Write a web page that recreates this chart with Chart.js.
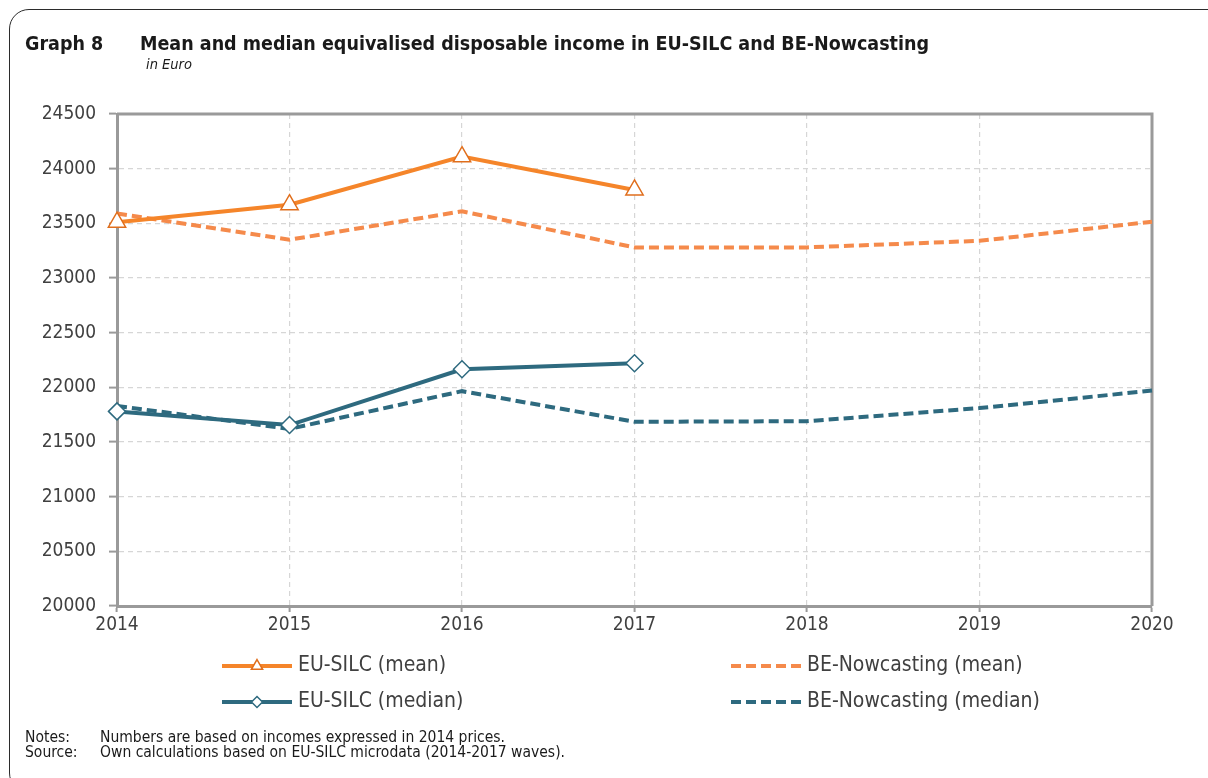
<!DOCTYPE html>
<html>
<head>
<meta charset="utf-8">
<title>Graph 8</title>
<script src="https://cdn.jsdelivr.net/npm/chart.js@4.4.1/dist/chart.umd.min.js"></script>
<style>
  html, body { margin: 0; padding: 0; }
  body {
    width: 1208px;
    height: 778px;
    overflow: hidden;
    background: #fff;
    position: relative;
    font-family: "DejaVu Sans Condensed", "DejaVu Sans", sans-serif;
    color: #1a1a1a;
  }
  #chart { position: absolute; left: 0; top: 0; }
  .clip {
    position: absolute;
    left: 0;
    top: 0;
    width: 1208px;
    height: 778px;
    overflow: hidden;
  }
  .frame {
    position: absolute;
    left: 9px;
    top: 9px;
    width: 1230px;
    height: 784px;
    border: 1.5px solid #2b2b2b;
    border-radius: 20px;
    box-sizing: border-box;
  }
  .txt { position: absolute; white-space: nowrap; }
  .graph-no { left: 25px; top: 34px; font-size: 19.5px; line-height: 19px; font-weight: bold; }
  .graph-title { left: 140px; top: 34px; font-size: 19.5px; line-height: 19px; font-weight: bold; }
  .graph-unit { left: 146px; top: 57px; font-size: 14.5px; line-height: 14px; font-style: italic; }
  .note { font-size: 15.5px; line-height: 15px; color: #1a1a1a; }
</style>
</head>
<body>
<canvas id="chart" width="1208" height="778"></canvas>
<div class="clip"><div class="frame"></div></div>
<div class="txt graph-no">Graph 8</div>
<div class="txt graph-title">Mean and median equivalised disposable income in EU-SILC and BE-Nowcasting</div>
<div class="txt graph-unit">in Euro</div>
<div class="txt note" style="left:25px;top:730px">Notes:</div>
<div class="txt note" style="left:100px;top:730px">Numbers are based on incomes expressed in 2014 prices.</div>
<div class="txt note" style="left:25px;top:745px">Source:</div>
<div class="txt note" style="left:100px;top:745px">Own calculations based on EU-SILC microdata (2014-2017 waves).</div>
<script>
// years on the x axis
const years = ["2014", "2015", "2016", "2017", "2018", "2019", "2020"];

// EU-SILC waves only go to 2017
const silcMean = [23510, 23670, 24110, 23805];
const silcMedian = [21780, 21655, 22165, 22220];

// BE-Nowcasting runs through 2020
const nowcastMean = [23590, 23350, 23610, 23280, 23280, 23340, 23515];
const nowcastMedian = [21830, 21620, 21965, 21685, 21690, 21810, 21970];

const seriesNames = [
  "EU-SILC (mean)",
  "BE-Nowcasting (mean)",
  "EU-SILC (median)",
  "BE-Nowcasting (median)",
];

const ORANGE = "#F5852A";
const ORANGE_LIGHT = "#F58A4B";
const TEAL = "#2E6A7F";
const AXIS = "#9a9a9a";
const FONT = '"DejaVu Sans Condensed", "DejaVu Sans", sans-serif';

// legend is laid out in two columns under the plot
const legendSlots = [
  { x: 222, y: 666 },
  { x: 731, y: 666 },
  { x: 222, y: 702 },
  { x: 731, y: 702 },
];

const plotFrame = {
  id: "plotFrame",
  beforeDatasetsDraw(chart) {
    const { ctx, chartArea: a } = chart;
    ctx.save();
    ctx.strokeStyle = AXIS;
    ctx.lineWidth = 3;
    ctx.beginPath();
    ctx.moveTo(a.left, a.top);
    ctx.lineTo(a.right, a.top);
    ctx.lineTo(a.right, a.bottom);
    ctx.stroke();
    ctx.restore();
  },
};

const bottomLegend = {
  id: "bottomLegend",
  afterDraw(chart) {
    const ctx = chart.ctx;
    chart.data.datasets.forEach((ds, i) => {
      const slot = legendSlots[i];
      ctx.save();
      ctx.strokeStyle = ds.borderColor;
      ctx.lineWidth = ds.borderWidth;
      ctx.setLineDash(ds.borderDash || []);
      ctx.beginPath();
      ctx.moveTo(slot.x, slot.y);
      ctx.lineTo(slot.x + 70, slot.y);
      ctx.stroke();
      ctx.setLineDash([]);
      if (ds.pointRadius > 0) {
        ctx.fillStyle = "#fff";
        ctx.strokeStyle = ds.pointBorderColor;
        ctx.lineWidth = 1.5;
        Chart.helpers.drawPoint(ctx, {
          pointStyle: ds.pointStyle,
          radius: ds.pointStyle === "triangle" ? 6.5 : 5.5,
          borderWidth: 1.5,
          rotation: 0,
        }, slot.x + 35, slot.y);
      }
      ctx.fillStyle = "#404040";
      ctx.font = "21px " + FONT;
      ctx.textBaseline = "middle";
      ctx.fillText(ds.label, slot.x + 76, slot.y);
      ctx.restore();
    });
  },
};

new Chart(document.getElementById("chart"), {
  type: "line",
  data: {
    labels: years,
    datasets: [
      {
        label: seriesNames[0],
        data: silcMean,
        borderColor: ORANGE,
        borderWidth: 4,
        pointStyle: "triangle",
        pointRadius: 10,
        pointBackgroundColor: "#fff",
        pointBorderColor: "#E06E1C",
        pointBorderWidth: 1.5,
        clip: false,
        order: 0,
      },
      {
        label: seriesNames[1],
        data: nowcastMean,
        borderColor: ORANGE_LIGHT,
        borderWidth: 4,
        borderDash: [10, 5],
        pointRadius: 0,
        clip: false,
        order: 1,
      },
      {
        label: seriesNames[2],
        data: silcMedian,
        borderColor: TEAL,
        borderWidth: 4,
        pointStyle: "rectRot",
        pointRadius: 8.5,
        pointBackgroundColor: "#fff",
        pointBorderColor: TEAL,
        pointBorderWidth: 1.5,
        clip: false,
        order: 0,
      },
      {
        label: seriesNames[3],
        data: nowcastMedian,
        borderColor: TEAL,
        borderWidth: 4,
        borderDash: [10, 5],
        pointRadius: 0,
        clip: false,
        order: 1,
      },
    ],
  },
  options: {
    responsive: false,
    animation: false,
    events: [],
    layout: { padding: { top: 114, right: 56, left: 0, bottom: 0 } },
    elements: { line: { tension: 0 } },
    plugins: {
      legend: { display: false },
      tooltip: { enabled: false },
    },
    scales: {
      x: {
        offset: false,
        afterFit: (scale) => { scale.height = 778 - 606; },
        grid: {
          color: "#d6d6d6",
          lineWidth: 1.2,
          tickColor: AXIS,
          tickLength: 6,
          tickWidth: 2,
        },
        border: { color: AXIS, width: 3, dash: [5, 4] },
        ticks: {
          color: "#404040",
          font: { family: FONT, size: 19 },
          padding: 2,
          maxRotation: 0,
        },
      },
      y: {
        min: 20000,
        max: 24500,
        afterFit: (scale) => { scale.width = 117; },
        grid: {
          color: "#d6d6d6",
          lineWidth: 1.2,
          tickColor: AXIS,
          tickLength: 8,
          tickWidth: 2,
        },
        border: { color: AXIS, width: 3, dash: [5, 4] },
        ticks: {
          stepSize: 500,
          color: "#404040",
          font: { family: FONT, size: 19 },
          padding: 13,
          callback: (v) => String(v),
        },
      },
    },
  },
  plugins: [plotFrame, bottomLegend],
});
</script>
</body>
</html>
